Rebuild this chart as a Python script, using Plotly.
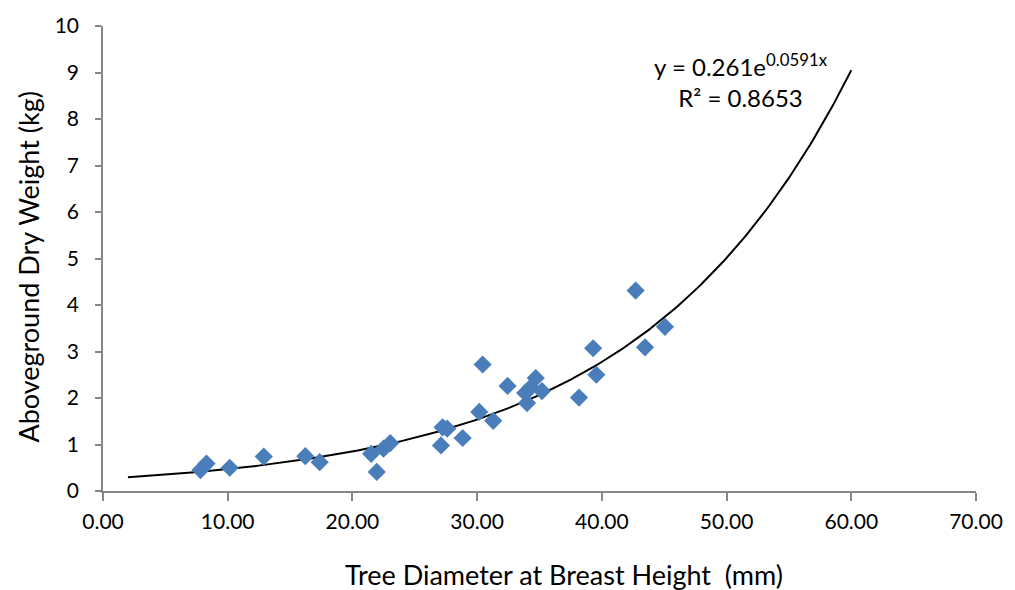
import numpy as np
import plotly.graph_objects as go

# Data
dbh_mm = [7.82, 8.30, 10.16, 12.89, 16.22, 17.37, 21.50, 21.95, 22.49, 23.03,
          27.23, 27.10, 27.60, 28.84, 30.17, 30.44, 31.29, 32.44, 33.85, 34.00,
          34.30, 34.70, 35.20, 38.17, 39.30, 39.56, 42.71, 43.46, 45.06]
dry_weight_kg = [0.45, 0.59, 0.50, 0.74, 0.75, 0.62, 0.80, 0.41, 0.91, 1.03,
                 1.37, 0.98, 1.34, 1.14, 1.70, 2.72, 1.51, 2.26, 2.11, 1.89,
                 2.23, 2.43, 2.15, 2.01, 3.07, 2.50, 4.31, 3.09, 3.53]

fit_a = 0.261
fit_b = 0.0591
fit_x_range = [2.0, 60.0]

x_ticks = [0, 10, 20, 30, 40, 50, 60, 70]
y_ticks = [0, 1, 2, 3, 4, 5, 6, 7, 8, 9, 10]

fx = np.linspace(fit_x_range[0], fit_x_range[1], 300)
fy = fit_a * np.exp(fit_b * fx)

FONT = "Lato"
fig = go.Figure()
fig.add_trace(go.Scatter(
    x=fx, y=fy, mode="lines",
    line=dict(color="black", width=2), hoverinfo="skip", showlegend=False))
fig.add_trace(go.Scatter(
    x=dbh_mm, y=dry_weight_kg, mode="markers",
    marker=dict(symbol="diamond", size=14, color="#4A7EBB"),
    showlegend=False))

W, H = 1015, 590
L, R, T, B = 103, 37, 21, 99

fig.update_layout(
    width=W, height=H,
    margin=dict(l=L, r=R, t=T, b=B),
    paper_bgcolor="white", plot_bgcolor="white",
    font=dict(family=FONT, size=21, color="black"),
    xaxis=dict(range=[0, 70], tickvals=x_ticks,
               ticktext=[f"{v:.2f}" for v in x_ticks],
               showgrid=False, zeroline=False, showline=True,
               linecolor="#868686", linewidth=1.5,
               ticks="outside", ticklen=8, tickcolor="#868686", tickwidth=1.5,
               ticklabelstandoff=3,
               tickfont=dict(family=FONT, size=21)),
    yaxis=dict(range=[0, 10], tickvals=y_ticks,
               showgrid=False, zeroline=False, showline=True,
               linecolor="#868686", linewidth=1.5,
               ticks="outside", ticklen=6, tickcolor="#868686", tickwidth=1.5,
               ticklabelstandoff=12,
               tickfont=dict(family=FONT, size=21)),
)

plot_w = W - L - R
plot_h = H - T - B
fig.add_annotation(
    text="Tree Diameter at Breast Height  (mm)",
    xref="paper", yref="paper",
    x=(565 - L) / plot_w, y=-(575 - (H - B)) / plot_h,
    xanchor="center", yanchor="middle", showarrow=False,
    font=dict(family=FONT, size=27))
fig.add_annotation(
    text="Aboveground Dry Weight (kg)",
    xref="paper", yref="paper",
    x=-(L - 28) / plot_w, y=1 - (264 - T) / plot_h,
    xanchor="center", yanchor="middle", textangle=-90, showarrow=False,
    font=dict(family=FONT, size=27))
fig.add_annotation(
    text=f"y = {fit_a}e<sup>{fit_b}x</sup><br>R² = 0.8653",
    xref="paper", yref="paper",
    x=(742 - L) / plot_w, y=1 - (76 - T) / plot_h,
    xanchor="center", yanchor="middle", showarrow=False, align="center",
    font=dict(family=FONT, size=24))

fig.write_html("out.html", config={"displayModeBar": False},
               post_script="document.body.style.margin='0';")
